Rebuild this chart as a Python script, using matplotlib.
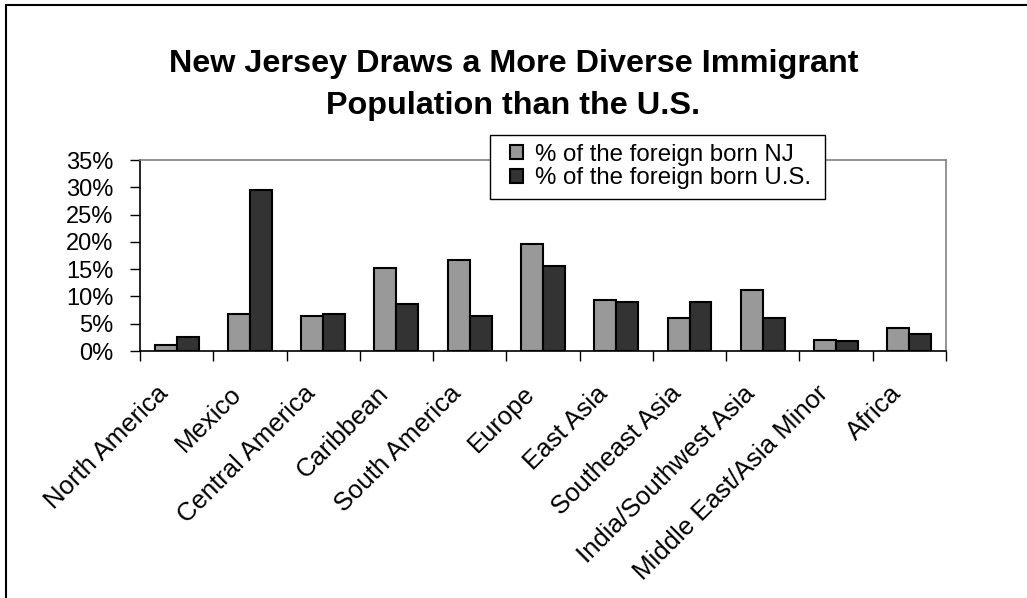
import numpy as np
import matplotlib
matplotlib.use("Agg")
from matplotlib import pyplot as plt
from matplotlib.patches import Rectangle
from matplotlib.ticker import FuncFormatter, MultipleLocator
from matplotlib.transforms import ScaledTranslation

plt.rcParams['font.family'] = ['Liberation Sans', 'DejaVu Sans']

regions = ["North America", "Mexico", "Central America", "Caribbean",
           "South America", "Europe", "East Asia", "Southeast Asia",
           "India/Southwest Asia", "Middle East/Asia Minor", "Africa"]
nj_share = [1.1, 6.8, 6.5, 15.3, 16.6, 19.6, 9.4, 6.1, 11.2, 2.1, 4.3]
us_share = [2.5, 29.5, 6.8, 8.7, 6.5, 15.5, 9.0, 9.0, 6.1, 1.8, 3.2]

fig = plt.figure(figsize=(10.27, 5.98), dpi=100)
ax = fig.add_axes([0.1363, 0.413, 0.7848, 0.3194])

x = np.arange(len(regions))
w = 0.3
ax.bar(x - w / 2, nj_share, w, color="#999999", edgecolor="black",
       linewidth=1.5, label="% of the foreign born NJ")
ax.bar(x + w / 2, us_share, w, color="#333333", edgecolor="black",
       linewidth=1.5, label="% of the foreign born U.S.")

ax.set_xlim(-0.5, len(regions) - 0.5)
ax.set_ylim(0, 35)
ax.yaxis.set_major_locator(MultipleLocator(5))
ax.yaxis.set_major_formatter(FuncFormatter(lambda v, p: f"{v:.0f}%"))

# category labels at group centres, tick marks between groups
ax.set_xticks(x)
ax.set_xticklabels(regions, rotation=45, ha="right", va="center",
                   rotation_mode="anchor")
ax.tick_params(axis="x", which="major", length=0, pad=28, labelsize=18.5)
shift = ScaledTranslation(-12 / 100, 0, fig.dpi_scale_trans)
for lab in ax.get_xticklabels():
    lab.set_transform(lab.get_transform() + shift)
ax.set_xticks(np.arange(-0.5, len(regions)), minor=True)
ax.tick_params(axis="x", which="minor", length=7, width=1, color="black")
ax.tick_params(axis="y", length=7, width=1, labelsize=17, pad=12)

for side in ("top", "right"):
    ax.spines[side].set_color("#808080")
    ax.spines[side].set_linewidth(1.2)
for side in ("left", "bottom"):
    ax.spines[side].set_color("black")
    ax.spines[side].set_linewidth(1.2)

fig.text(0.5, 0.8796, "New Jersey Draws a More Diverse Immigrant",
         ha="center", va="baseline", fontsize=23.3, fontweight="bold")
fig.text(0.5, 0.8094, "Population than the U.S.",
         ha="center", va="baseline", fontsize=23.3, fontweight="bold")

# legend box drawn separately so its padding can be set per side
fig.add_artist(Rectangle((0.4771, 0.6672), 0.3262, 0.1070,
                         transform=fig.transFigure, facecolor="white",
                         edgecolor="black", linewidth=1.0, zorder=3))
leg = fig.legend(loc="upper left", bbox_to_anchor=(0.4966, 0.7600),
                 fontsize=17.3, frameon=False, handlelength=0.55,
                 handleheight=0.55, handletextpad=0.5, borderpad=0,
                 labelspacing=0.08, borderaxespad=0)
leg.set_zorder(4)

# outer chart border (runs off the right and bottom edges)
fig.add_artist(Rectangle((0.0058, -0.05), 1.2, 1.0416, transform=fig.transFigure,
                         fill=False, edgecolor="black", linewidth=1.5))

fig.savefig("out.png", dpi=100)
